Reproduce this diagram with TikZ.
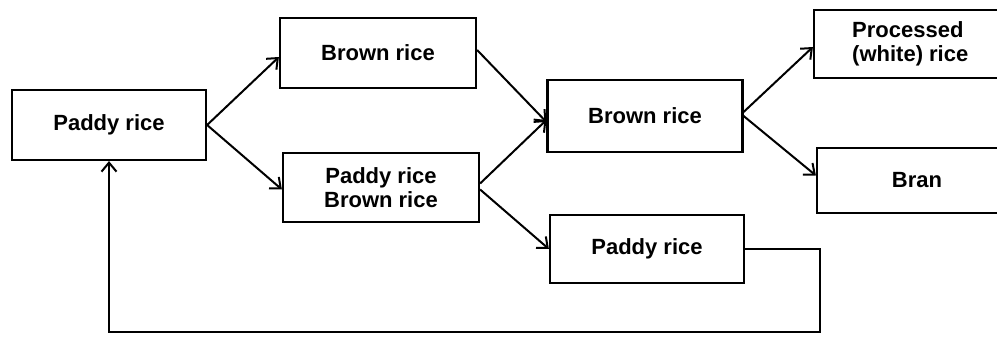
\documentclass[tikz,border=0pt]{standalone}
\usepackage{fontspec}
\setmainfont{Liberation Sans}
\usetikzlibrary{arrows.meta}
\begin{document}
\begin{tikzpicture}[x=1pt,y=-1pt,
  label font/.style={font=\fontsize{22}{24}\selectfont\bfseries},
  box/.style={draw, line width=2.2pt, rectangle, align=center, inner sep=0pt, label font},
  flow/.style={line width=2pt, -{Straight Barb[length=9pt,width=15pt,line width=2pt]}}]
  \useasboundingbox (0,0) rectangle (997,344);
  \clip (0,0) rectangle (997,344);

  \node[box, minimum width=194pt, minimum height=70pt] (paddy) at (109,125) {Paddy rice};
  \node[box, minimum width=196pt, minimum height=70pt] (brownA) at (378,53) {Brown rice};
  \node[box, minimum width=196pt, minimum height=69pt] (mixed) at (381,187.5) {Paddy rice\\Brown rice};
  \node[box, minimum width=195pt, minimum height=72pt] (brownB) at (645,116) {Brown rice};
  \node[box, minimum width=202pt, minimum height=68pt] (white) at (915,44) {};
  \node[label font, align=left, anchor=west, inner sep=0pt] (whitetxt) at (852,44) {Processed\\(white) rice};
  \node[box, minimum width=200pt, minimum height=65pt] (bran) at (917,180.5) {Bran};
  \node[box, minimum width=194pt, minimum height=68pt] (paddyB) at (647,249) {Paddy rice};

  \coordinate (loop) at (820,332);

  \draw[flow] (paddy.east) -- ([yshift=-4pt]brownA.west);
  \draw[flow] (paddy.east) -- ([yshift=-2pt]mixed.west);
  \draw[flow] ([yshift=3pt]brownA.east) -- ([yshift=-6pt]brownB.west);
  \draw[flow] ([yshift=4pt]mixed.east) -- ([yshift=-4pt]brownB.west);
  \draw[flow] ([yshift=-2pt]mixed.east) -- (paddyB.west);
  \draw[flow] ([yshift=4pt]brownB.east) -- ([yshift=-3pt]white.west);
  \draw[flow] (brownB.east) -- ([yshift=5pt]bran.west);
  \draw[flow] (paddyB.east) -| (loop) -| (paddy.south);
\end{tikzpicture}
\end{document}
